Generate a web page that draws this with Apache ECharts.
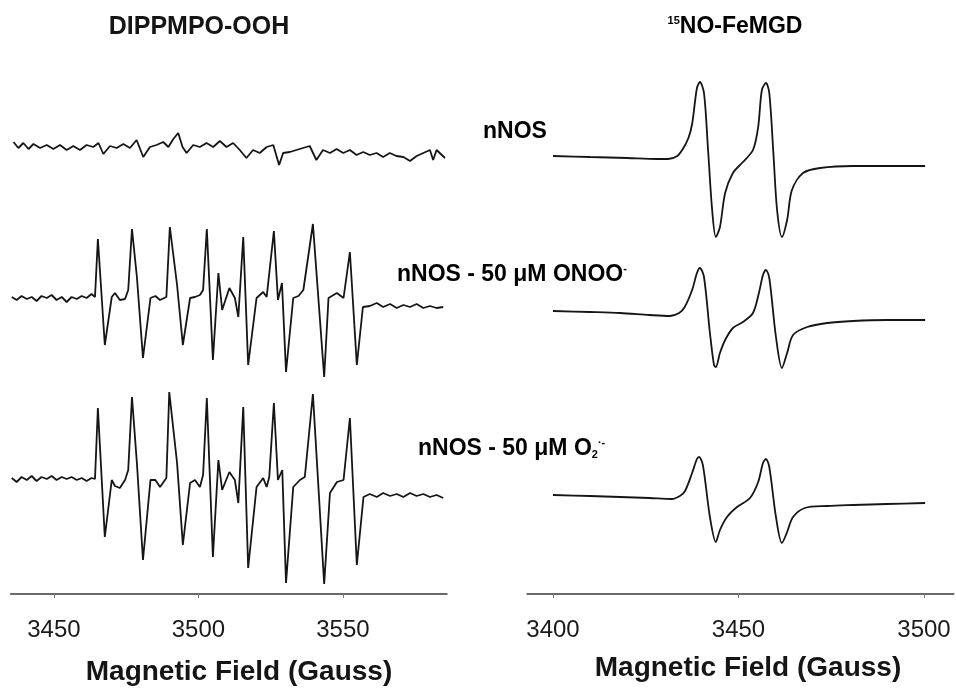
<!DOCTYPE html>
<html>
<head>
<meta charset="utf-8">
<title>EPR spectra</title>
<script src="https://cdn.jsdelivr.net/npm/echarts@6/dist/echarts.min.js"></script>
<style>
  html, body { margin: 0; padding: 0; background: #fff; }
  #chart { width: 956px; height: 690px; }
</style>
</head>
<body>
<div id="chart"></div>
<script>
// 左图 DIPPMPO-OOH：[磁场 G, 相对强度]
var dippNnos = [[3436.0,6],[3437.7,0],[3439.4,5],[3441.2,-1],[3442.9,4],[3445.2,0],[3447.5,3],[3449.8,-1],[3452.1,3],[3454.4,-2],[3456.7,2],[3459.0,-2],[3461.3,3],[3463.6,1],[3465.4,5],[3467.1,-6],[3469.4,2],[3471.7,0],[3474.0,4],[3476.3,0],[3478.6,8],[3480.9,-9],[3483.2,1],[3485.5,3],[3487.8,6],[3489.6,1],[3491.3,9],[3493.0,15],[3494.5,1],[3495.9,-5],[3498.2,3],[3500.5,1],[3502.8,5],[3505.1,1],[3507.4,7],[3509.7,1],[3512.0,5],[3514.3,-2],[3516.6,-10],[3518.9,-2],[3521.2,-5],[3523.6,1],[3525.9,3],[3527.9,-17],[3529.3,-5],[3531.6,-4],[3533.9,-2],[3536.2,0],[3538.5,2],[3540.8,-12],[3543.1,-2],[3545.5,-5],[3547.8,-1],[3550.1,-5],[3552.4,-2],[3554.7,-7],[3557.0,-4],[3559.3,-7],[3561.6,-5],[3563.9,-9],[3566.2,-5],[3568.5,-8],[3570.9,-9],[3573.2,-13],[3575.5,-8],[3577.8,-5],[3580.1,-2],[3581.2,-12],[3582.4,-2],[3585.3,-10]];
var dippOnoo = [[3435.4,0],[3437.1,-3],[3438.8,1],[3440.6,-2],[3442.3,0],[3444.0,-4],[3445.7,1],[3447.5,-1],[3449.2,2],[3450.9,-3],[3452.7,0],[3454.4,-5],[3456.1,0],[3457.9,-2],[3459.6,1],[3461.3,-1],[3463.0,3],[3464.2,0],[3465.2,58],[3467.6,-48],[3470.0,0],[3471.1,4],[3472.8,-3],[3474.6,-2],[3475.7,7],[3477.0,68],[3478.7,20],[3480.8,-61],[3483.4,-1],[3485.1,1],[3486.7,-3],[3488.9,0],[3490.1,70],[3492.6,12],[3494.6,-48],[3497.1,-1],[3498.8,0],[3500.5,2],[3501.6,7],[3502.9,68],[3505.0,-63],[3506.9,24],[3508.2,-13],[3510.7,9],[3512.6,-1],[3513.8,-20],[3515.5,60],[3517.2,-68],[3520.1,-1],[3522.4,5],[3523.6,0],[3526.1,66],[3527.5,-3],[3528.9,14],[3530.3,-75],[3532.8,-1],[3534.6,1],[3536.3,7],[3539.6,73],[3543.5,-80],[3545.0,-1],[3547.9,4],[3550.2,-1],[3552.4,45],[3554.8,-68],[3556.9,-10],[3559.3,-9],[3561.7,-6],[3563.9,-10],[3566.3,-7],[3568.6,-11],[3570.9,-8],[3573.2,-10],[3575.5,-7],[3577.8,-11],[3580.1,-9],[3582.4,-11],[3584.7,-10]];
var dippSuperoxide = [[3435.4,0],[3437.1,-4],[3438.8,1],[3440.6,-2],[3442.3,2],[3444.0,-3],[3445.7,1],[3447.5,-1],[3449.2,2],[3450.9,-2],[3452.7,1],[3454.4,-1],[3456.1,1],[3457.9,-2],[3459.6,0],[3461.3,-3],[3463.0,0],[3464.2,-1],[3465.2,70],[3467.6,-59],[3470.0,-2],[3471.1,-8],[3472.8,-10],[3474.6,-2],[3475.7,8],[3477.0,81],[3478.7,15],[3480.8,-82],[3483.4,-2],[3485.1,-2],[3486.7,-9],[3488.9,0],[3489.9,86],[3492.6,15],[3494.6,-67],[3497.1,-5],[3498.8,-2],[3500.5,-9],[3501.6,3],[3502.9,80],[3505.0,-79],[3506.9,18],[3508.2,-12],[3510.7,6],[3512.6,-2],[3513.8,-25],[3515.5,71],[3517.2,-90],[3520.1,-9],[3522.4,0],[3523.6,-9],[3524.5,1],[3526.1,75],[3527.5,-2],[3529.0,8],[3530.3,-105],[3532.8,-9],[3535.1,-2],[3536.8,1],[3539.6,84],[3543.5,-106],[3545.5,-15],[3547.9,-4],[3550.2,-2],[3552.4,60],[3554.8,-87],[3557.1,-19],[3559.3,-16],[3561.7,-19],[3563.9,-15],[3566.3,-18],[3568.6,-16],[3570.9,-19],[3573.2,-15],[3575.5,-18],[3577.8,-16],[3580.1,-19],[3582.4,-17],[3584.7,-20]];

// 右图 15NO-FeMGD
var feNnos = [[3400,2],[3410,1],[3420,0],[3428,-1],[3431,-1],[3433.5,2],[3435.0,9],[3436.5,20],[3437.5,34],[3438.8,70],[3439.6,76],[3440.7,65],[3441.8,8],[3442.9,-52],[3443.9,-79],[3445.0,-69],[3446.4,-35],[3448.5,-15],[3451.2,-4],[3453.9,8],[3455.3,31],[3456.3,68],[3457.4,75],[3458.3,65],[3459.4,5],[3460.4,-52],[3461.7,-79],[3463.1,-62],[3464.4,-32],[3467.4,-15],[3472.0,-10],[3480.9,-8],[3490.0,-8],[3500.3,-8]];
var feOnoo = [[3400,3],[3410,2],[3418.1,1],[3426,-1],[3431.5,-2],[3434,1],[3435.5,7],[3437.5,24],[3438.8,41],[3439.6,46],[3440.7,37],[3442.3,-19],[3443.4,-51],[3443.9,-53],[3445.0,-39],[3446.4,-26],[3448.5,-14],[3451.2,-8],[3453.9,1],[3455.5,21],[3456.6,39],[3457.4,44],[3458.3,36],[3460.1,-23],[3461.7,-54],[3463.1,-39],[3464.7,-21],[3468.5,-13],[3473.9,-9],[3480.9,-7],[3490,-6],[3500.3,-6]];
var feSuperoxide = [[3400,3],[3410,2],[3418.1,1],[3426,0],[3432,-1],[3434.2,2],[3435.6,7],[3437.5,25],[3438.8,39],[3439.4,41],[3440.4,33],[3442.3,-19],[3443.9,-44],[3445.0,-32],[3446.9,-19],[3449.6,-9],[3453.1,0],[3455.3,16],[3456.6,35],[3457.4,39],[3458.3,31],[3460.1,-19],[3461.7,-45],[3463.1,-34],[3464.7,-19],[3467.9,-10],[3473.9,-8],[3480.9,-7],[3490,-6],[3500.3,-5]];

// 各谱线的基线偏移（堆叠显示）
var leftOffsets = [446, 297, 116];
var rightOffsets = [436, 280, 96];

var leftTicks = [3450, 3500, 3550];
var rightTicks = [3400, 3450, 3500];

var FONT = '"Liberation Sans", Arial, sans-serif';
var INK = '#151515';

function shift(points, off) {
	return points.map(function(p) { return [p[0], p[1] + off]; });
}

function trace(points, off, idx, smooth) {
	return {
		type: 'line',
		xAxisIndex: idx,
		yAxisIndex: idx,
		data: shift(points, off),
		showSymbol: false,
		symbol: 'none',
		smooth: smooth,
		silent: true,
		lineStyle: { color: INK, width: 1.8 }
	};
}

function xAxisFor(idx, min, max, ticks) {
	return {
		gridIndex: idx,
		type: 'value',
		min: min,
		max: max,
		axisLine: { show: true, onZero: false, lineStyle: { color: '#3a3a3a', width: 1.5 } },
		axisTick: { show: true, customValues: ticks, length: 4, lineStyle: { color: '#777', width: 1 } },
		axisLabel: {
			customValues: ticks, fontSize: 24, margin: 24, color: '#1a1a1a', fontFamily: FONT,
			formatter: function(v) { return String(v); }
		},
		splitLine: { show: false }
	};
}

var labelRich = {
	b: { fontSize: 23, fontWeight: 'bold', fontFamily: FONT, color: INK },
	sup: { fontSize: 11, fontWeight: 'bold', fontFamily: FONT, color: INK, verticalAlign: 'top' },
	sub: { fontSize: 11, fontWeight: 'bold', fontFamily: FONT, color: INK, verticalAlign: 'bottom' }
};

function label(x, y, text, align) {
	return {
		type: 'text',
		x: x,
		y: y,
		silent: true,
		style: { text: text, rich: labelRich, align: align || 'left', verticalAlign: 'middle' }
	};
}

var chart = echarts.init(document.getElementById('chart'), null, { renderer: 'canvas' });

chart.setOption({
	animation: false,
	backgroundColor: '#fff',
	grid: [
		{ left: 10.6, width: 436.4, top: 20, height: 574 },
		{ left: 527, width: 426.7, top: 20, height: 574 }
	],
	xAxis: [
		xAxisFor(0, 3435, 3586, leftTicks),
		xAxisFor(1, 3393, 3508, rightTicks)
	],
	yAxis: [
		{ gridIndex: 0, type: 'value', min: 0, max: 574, show: false },
		{ gridIndex: 1, type: 'value', min: 0, max: 574, show: false }
	],
	series: [
		trace(dippNnos, leftOffsets[0], 0, false),
		trace(dippOnoo, leftOffsets[1], 0, false),
		trace(dippSuperoxide, leftOffsets[2], 0, false),
		trace(feNnos, rightOffsets[0], 1, 0.3),
		trace(feOnoo, rightOffsets[1], 1, 0.3),
		trace(feSuperoxide, rightOffsets[2], 1, 0.3)
	],
	graphic: [
		{
			type: 'text', x: 199, y: 27, silent: true,
			style: { text: 'DIPPMPO-OOH', fontSize: 25, fontWeight: 'bold', fontFamily: FONT, fill: INK, align: 'center', verticalAlign: 'middle' }
		},
		label(735, 27, '{sup|15}{b|NO-FeMGD}', 'center'),
		label(483, 132, '{b|nNOS}'),
		label(397, 275, '{b|nNOS - 50 μM ONOO}{sup|-}'),
		label(418, 449, '{b|nNOS - 50 μM O}{sub|2}{sup|·-}'),
		{
			type: 'text', x: 239, y: 672, silent: true,
			style: { text: 'Magnetic Field (Gauss)', fontSize: 28, fontWeight: 'bold', fontFamily: FONT, fill: INK, align: 'center', verticalAlign: 'middle' }
		},
		{
			type: 'text', x: 748, y: 668, silent: true,
			style: { text: 'Magnetic Field (Gauss)', fontSize: 28, fontWeight: 'bold', fontFamily: FONT, fill: INK, align: 'center', verticalAlign: 'middle' }
		}
	]
});
</script>
</body>
</html>
